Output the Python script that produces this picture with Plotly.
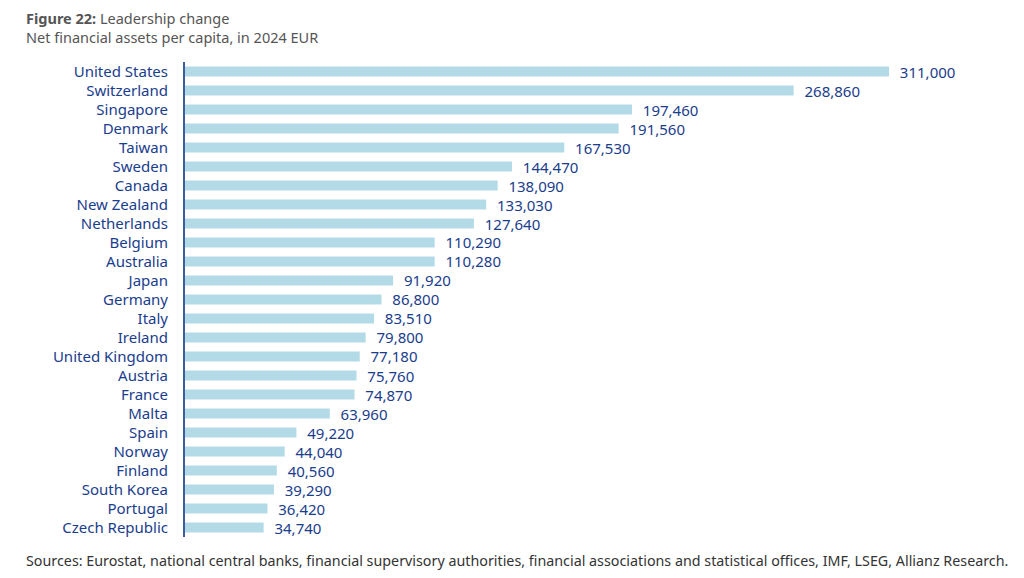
import plotly.graph_objects as go

countries = ["United States", "Switzerland", "Singapore", "Denmark", "Taiwan", "Sweden",
             "Canada", "New Zealand", "Netherlands", "Belgium", "Australia", "Japan",
             "Germany", "Italy", "Ireland", "United Kingdom", "Austria", "France", "Malta",
             "Spain", "Norway", "Finland", "South Korea", "Portugal", "Czech Republic"]
values = [311000, 268860, 197460, 191560, 167530, 144470, 138090, 133030, 127640, 110290,
          110280, 91920, 86800, 83510, 79800, 77180, 75760, 74870, 63960, 49220, 44040,
          40560, 39290, 36420, 34740]

navy = "#1a3d8c"
FONT = "Noto Sans"
fig = go.Figure(go.Bar(
    x=values, y=countries, orientation="h",
    marker=dict(color="#b3dbe7", line=dict(width=0)),
    text=["\u00a0\u00a0" + f"{v:,}" for v in values], textposition="outside",
    textfont=dict(color=navy, size=15, family=FONT),
    constraintext="none",
    cliponaxis=False, width=0.53,
))
fig.update_layout(
    width=1008, height=562,
    margin=dict(l=177, r=16, t=54, b=33),
    paper_bgcolor="white", plot_bgcolor="white",
    showlegend=False,
    font=dict(family=FONT, color=navy, size=15),
    xaxis=dict(range=[0, 360000], visible=False),
    yaxis=dict(autorange="reversed", showline=True, linecolor="#3d5d9b", linewidth=2,
               ticks="", ticklabelstandoff=12, tickfont=dict(size=15, color=navy, family=FONT),
               showgrid=False, zeroline=False),
)
fig.add_annotation(xref="paper", yref="paper", x=0, y=1, xanchor="left", yanchor="bottom",
                   text="<b>Figure 22:</b> Leadership change<br>Net financial assets per capita, in 2024 EUR",
                   showarrow=False, align="left", font=dict(size=14.5, color="#555555", family=FONT),
                   xshift=-161, yshift=13)
fig.add_annotation(xref="paper", yref="paper", x=0, y=0, xanchor="left", yanchor="top",
                   text="Sources: Eurostat, national central banks, financial supervisory authorities, financial associations and statistical offices, IMF, LSEG, Allianz Research.",
                   showarrow=False, align="left", font=dict(size=14.3, color="#333333", family=FONT),
                   xshift=-161, yshift=-12)
fig.write_html("out.html")
